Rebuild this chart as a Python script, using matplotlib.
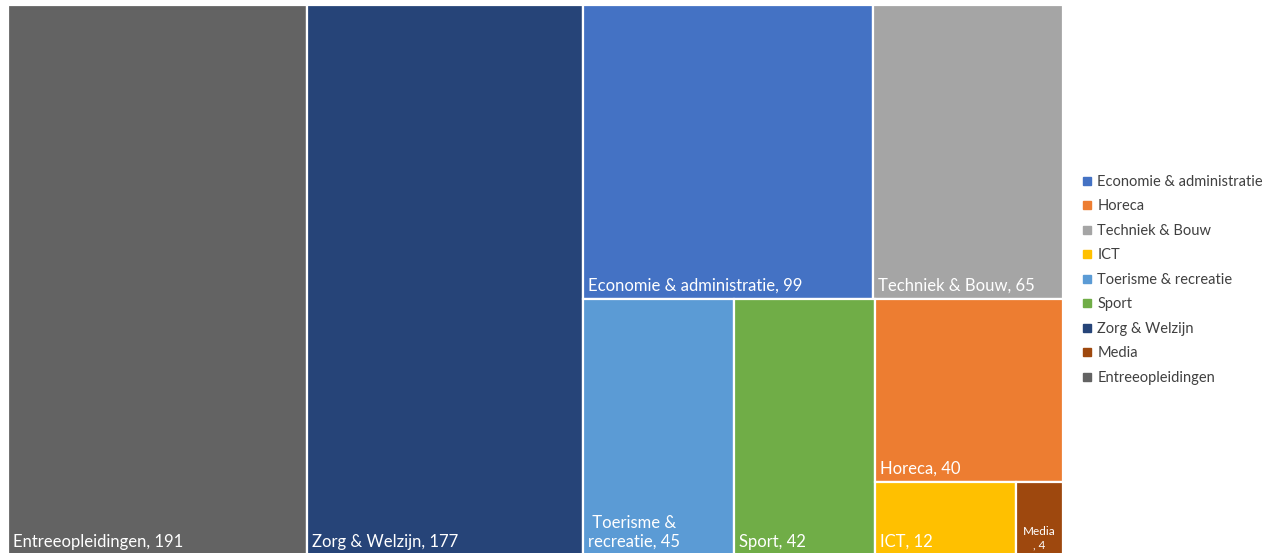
import matplotlib
matplotlib.use("Agg")
import matplotlib.pyplot as plt
from matplotlib.patches import Rectangle
from matplotlib.lines import Line2D

plt.rcParams['font.family'] = ['Lato', 'DejaVu Sans']

# data (legend order)
categories = ['Economie & administratie', 'Horeca', 'Techniek & Bouw', 'ICT',
              'Toerisme & recreatie', 'Sport', 'Zorg & Welzijn', 'Media',
              'Entreeopleidingen']
values = [99, 40, 65, 12, 45, 42, 177, 4, 191]
colors = ['#4472C4', '#ED7D31', '#A5A5A5', '#FFC000',
          '#5B9BD5', '#70AD47', '#264478', '#9E480E', '#636363']
# text shown inside the tiles
tile_labels = {'Toerisme & recreatie': ' Toerisme &\nrecreatie, 45',
               'Media': 'Media\n, 4'}


def worst(row, w):
    s = sum(row)
    return max(max(w * w * r / (s * s), (s * s) / (w * w * r)) for r in row)


def layout_row(row, x, y, dx, dy):
    # place a row along the shorter side, return rects and the leftover box
    s = sum(row)
    rects = []
    if dx >= dy:
        w = s / dy
        yy = y
        for r in row:
            h = r / w
            rects.append((x, yy, w, h))
            yy += h
        return rects, (x + w, y, dx - w, dy)
    else:
        h = s / dx
        xx = x
        for r in row:
            w = r / h
            rects.append((xx, y, w, h))
            xx += w
        return rects, (x, y + h, dx, dy - h)


def squarify(sizes, x, y, dx, dy):
    total = sum(sizes)
    sizes = [v * dx * dy / total for v in sizes]
    out = []
    i = 0
    while i < len(sizes):
        row = [sizes[i]]
        i += 1
        side = min(dx, dy)
        while i < len(sizes) and worst(row + [sizes[i]], side) <= worst(row, side):
            row.append(sizes[i])
            i += 1
        rects, (x, y, dx, dy) = layout_row(row, x, y, dx, dy)
        out += rects
    return out


W, H = 1055, 550
order = sorted(range(len(values)), key=lambda k: -values[k])
rects = squarify([values[k] for k in order], 0, 0, W, H)

fig = plt.figure(figsize=(12.7, 5.53), dpi=100)
ax = fig.add_axes([8 / 1270, -2 / 553, W / 1270, H / 553])
ax.set_xlim(0, W)
ax.set_ylim(H, 0)
ax.axis('off')

for k, (rx, ry, rw, rh) in zip(order, rects):
    ax.add_patch(Rectangle((rx, ry), rw, rh, facecolor=colors[k],
                           edgecolor='white', linewidth=1.6))
    name = categories[k]
    txt = tile_labels.get(name, '{}, {}'.format(name, values[k]))
    if name == 'Media':
        ax.text(rx + rw / 2, ry + rh - 5, txt, color='white', fontsize=8.5,
                ha='center', va='bottom', multialignment='center')
    else:
        ax.text(rx + 5, ry + rh - 5, txt, color='white', fontsize=12,
                ha='left', va='bottom', linespacing=1.25)

handles = [Line2D([], [], marker='s', linestyle='none', markersize=5.5,
                  markerfacecolor=c, markeredgecolor=c) for c in colors]
fig.legend(handles, categories, loc='center left', bbox_to_anchor=(1068 / 1270, 0.494),
           frameon=False, fontsize=10.5, handletextpad=0.3, labelspacing=0.72,
           handlelength=0.8, labelcolor='#404040')

fig.savefig('out.png', dpi=100)
